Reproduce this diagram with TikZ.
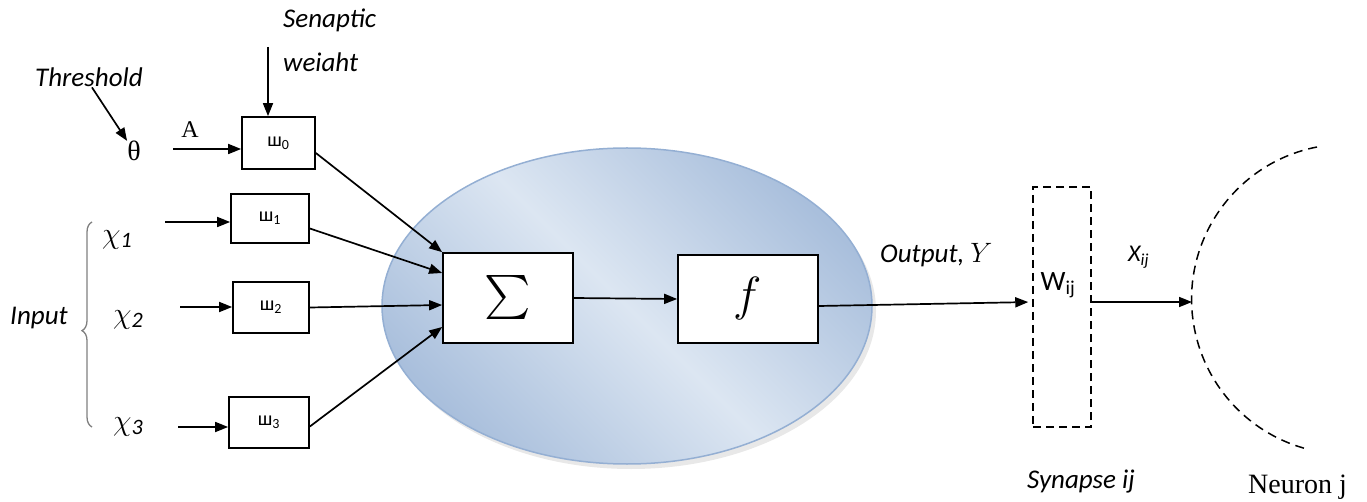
\RequirePackage{fix-cm}
\documentclass[tikz,border=0pt]{standalone}
\usepackage{fontspec}
\setmainfont{Liberation Serif}
\newfontfamily\lab{Carlito}
\usetikzlibrary{arrows.meta,decorations.pathreplacing,calc}
\definecolor{ellD}{HTML}{A9BFDC}
\definecolor{ellL}{HTML}{DCE6F2}
\definecolor{ellE}{HTML}{94AFD3}
\definecolor{braceC}{HTML}{7F7F7F}
\begin{document}
\begin{tikzpicture}[x=1pt,y=-1pt,
  wbox/.style={draw,line width=1.7pt,fill=white,inner sep=0pt,font=\lab\fontsize{20}{20}\selectfont},
  bigbox/.style={draw,line width=1.7pt,fill=white,inner sep=0pt},
  arr/.style={line width=1.7pt,-{Triangle[length=13pt,width=10pt]}},
  itl/.style={font=\lab\itshape\fontsize{27}{27}\selectfont,inner sep=0pt},
  ser/.style={font=\fontsize{28}{28}\selectfont,inner sep=0pt},
]
\useasboundingbox (0,0) rectangle (1367,502);
% neuron body
\fill[gray!18] (631,311) ellipse[x radius=245,y radius=158];
\shade[top color=ellD,bottom color=ellD,middle color=ellL,shading angle=-45] (627,306) ellipse[x radius=245,y radius=158];
\draw[ellE,line width=1.5pt] (627,306) ellipse[x radius=245,y radius=158];

% boxes
\node[wbox,minimum width=73pt,minimum height=52pt] (w0) at (278.5,143) {ш\textsubscript{0}};
\node[wbox,minimum width=78pt,minimum height=49pt] (w1) at (270,218.5) {ш\textsubscript{1}};
\node[wbox,minimum width=76pt,minimum height=51pt] (w2) at (271,307.5) {ш\textsubscript{2}};
\node[wbox,minimum width=80pt,minimum height=51pt] (w3) at (269,422.5) {ш\textsubscript{3}};
\node[bigbox,minimum width=130pt,minimum height=90pt] (sigma) at (508,298) {\scalebox{4.4}{$\sum$}};
\node[bigbox,minimum width=140pt,minimum height=88pt] (f) at (748,299) {\fontsize{48}{48}\selectfont$f$};
\node[draw,line width=1.5pt,minimum width=58pt,minimum height=240pt,inner sep=0pt,dash pattern=on 8pt off 5pt] (syn) at (1062,307) {};
\node[font=\lab\fontsize{28}{28}\selectfont,inner sep=0pt] (wij) at (1058,285) {W\textsubscript{ij}};

% labels
\node[itl,anchor=base west] (sen) at (283,28) {Senaptic};
\node[itl,anchor=base west] (wei) at (283,72) {weiaht};
\node[itl,anchor=base west] (thr) at (35,87) {Threshold};
\node[ser] (theta) at (134,151) {θ};
\node[font=\fontsize{24}{24}\selectfont,inner sep=0pt,anchor=base] (A) at (190,138) {A};
\node[inner sep=0pt,anchor=west] (x1) at (102,240) {\fontsize{30}{30}\selectfont$\chi$\lab\itshape\fontsize{22}{22}\selectfont\raisebox{-4pt}{1}};
\node[inner sep=0pt,anchor=west] (x2) at (113,320) {\fontsize{30}{30}\selectfont$\chi$\lab\itshape\fontsize{22}{22}\selectfont\raisebox{-4pt}{2}};
\node[inner sep=0pt,anchor=west] (x3) at (113,427) {\fontsize{30}{30}\selectfont$\chi$\lab\itshape\fontsize{22}{22}\selectfont\raisebox{-4pt}{3}};
\node[itl,anchor=base west] (inp) at (10,325) {Input};
\node[itl,anchor=base west] (out) at (880,263) {Output,\ \upshape\fontsize{28}{28}\selectfont$Y$};
\node[inner sep=0pt,anchor=base west,font=\lab\itshape\fontsize{24}{24}\selectfont] (xij) at (1128,262) {X\textsubscript{ij}};
\node[itl,anchor=base west] (synl) at (1027,488) {Synapse ij};
\node[ser,anchor=base west] (nj) at (1248,493) {Neuron j};

% brace
\draw[braceC,line width=1.3pt,decorate,decoration={brace,amplitude=10pt,aspect=0.47}] (92,427) -- (92,222);

% coordinates
\coordinate (sw) at (268,47);
\coordinate (aS) at (173,149);
\coordinate (x1s) at (165,222);
\coordinate (x2s) at (180,307);
\coordinate (x3s) at (178,427);
\coordinate (nleft) at (1192,302);

% connectors
\draw[arr] (sw) -- (sw |- w0.north);
\draw[arr] ([xshift=3pt]thr.south) -- (theta.north west);
\draw[arr] (aS) -- (aS -| w0.west);
\draw[arr] (x1s) -- (x1s -| w1.west);
\draw[arr] (x2s) -- (x2s -| w2.west);
\draw[arr] (x3s) -- (x3s -| w3.west);
\draw[arr] ([yshift=-10pt]w0.east) -- (sigma.north west);
\draw[arr] ([yshift=-10pt]w1.east) -- ([yshift=25pt]sigma.west);
\draw[arr] (w2.east) -- ([yshift=-7pt]sigma.west);
\draw[arr] ([yshift=-4pt]w3.east) -- ([yshift=-29pt]sigma.west);
\draw[arr] (sigma.east) -- (f.west);
\draw[arr,shorten >=4pt] ([yshift=-7pt]f.east) -- ([yshift=5pt]syn.west);
\draw[arr] ([yshift=5pt]syn.east) -- (nleft);

% neuron j
\draw[line width=1.5pt,dash pattern=on 9pt off 6pt] (1317,147) arc[start angle=-101,end angle=-256,radius=155];
\end{tikzpicture}
\end{document}
